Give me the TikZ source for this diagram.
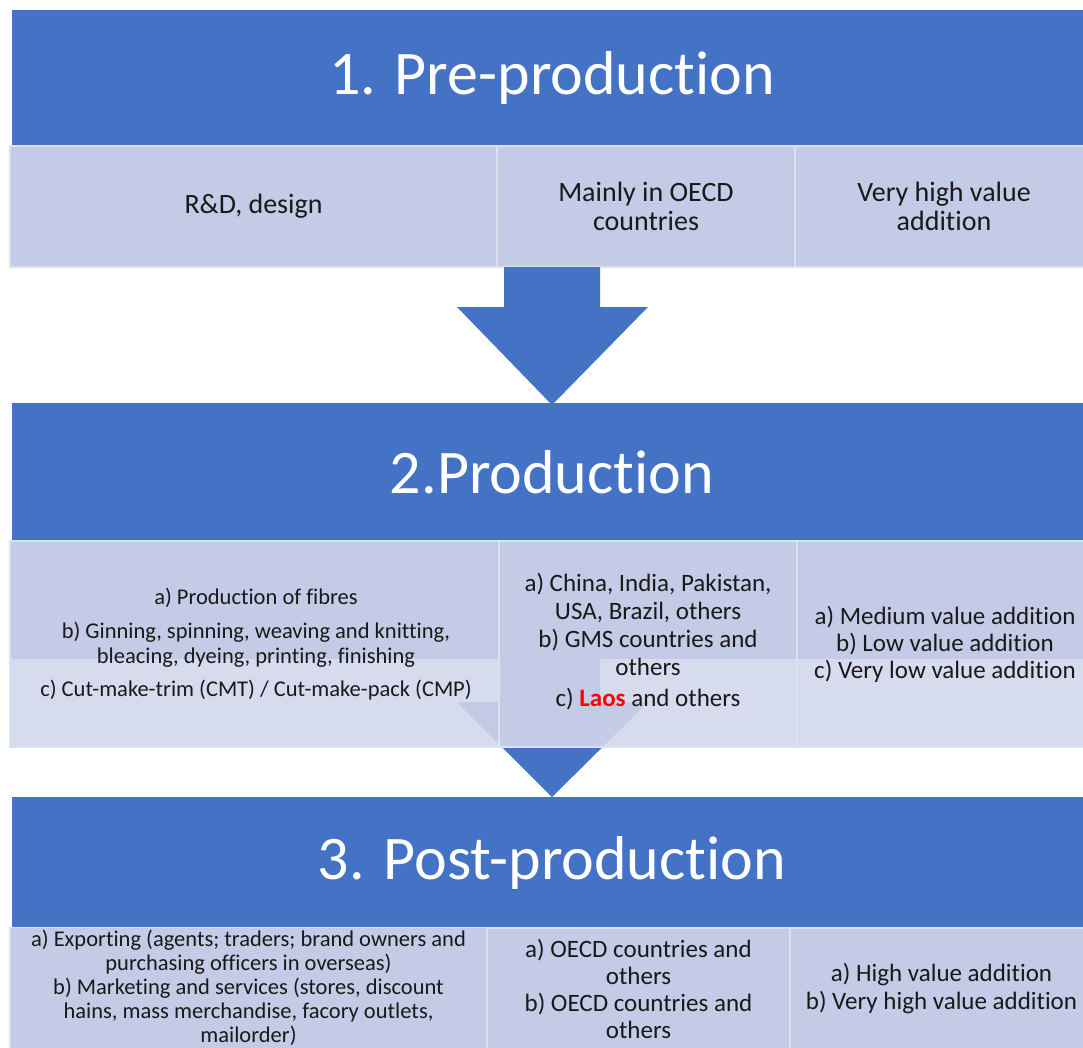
\documentclass[tikz,border=0pt]{standalone}
\usepackage{fontspec}
\setmainfont{Carlito}[Ligatures={NoCommon}]
\definecolor{hdblue}{HTML}{4472C4}
\definecolor{celldark}{HTML}{C3CBE6}
\definecolor{celllight}{HTML}{D6DBEE}
\definecolor{cellline}{HTML}{DCE1F1}
\begin{document}
\begin{tikzpicture}[x=1pt, y=-1pt,
    header/.style={fill=hdblue, text=white, inner sep=0pt, minimum width=1080pt, font=\fontsize{62}{70}\selectfont},
    cell/.style={fill=celldark, draw=cellline, line width=1.2pt, inner sep=0pt, align=center, text=black!90},
    txt/.style={align=center, inner sep=0pt, text=black!90}]
\useasboundingbox (0,0) rectangle (1083,1047);

% stage 1
\node[header, minimum height=136pt] (pre) at (552,78) {1. Pre-production};
\node[cell, minimum width=487pt, minimum height=121pt, font=\fontsize{28}{29}\selectfont] (rd) at (253.5,206.5) {R\&D, design};
\node[cell, minimum width=298pt, minimum height=121pt, font=\fontsize{28}{29}\selectfont] (oecd) at (646,206.5) {Mainly in OECD\\countries};
\node[cell, minimum width=298pt, minimum height=121pt, font=\fontsize{28}{29}\selectfont] (vhigh) at (944,206.5) {Very high value\\addition};
\fill[hdblue] (504,267) -- (600,267) -- (600,307) -- (648,307) -- (552,405) -- (457,307) -- (504,307) -- cycle;

% stage 2
\node[header, minimum height=138pt] (prod) at (552,472) {2.Production};
\fill[hdblue] (504,659) -- (600,659) -- (600,702) -- (648,702) -- (552,797) -- (457,702) -- (504,702) -- cycle;
\fill[celllight] (10,541) rectangle (1093,747);
\fill[celldark] (10,541) rectangle (1093,659);
\begin{scope}
  \clip (10,541) rectangle (1093,747);
  \fill[celldark] (500,541) -- (600,541) -- (600,702) -- (648,702) -- (552,797) -- (457,702) -- (500,702) -- cycle;
\end{scope}
\draw[cellline, line width=1.2pt] (10,541) rectangle (1093,747) (499,541) -- (499,747) (797,541) -- (797,747);
\node[txt, font=\fontsize{22.5}{25}\selectfont] (fibres) at (256,644)
  {a) Production of fibres\\[9pt]
   b) Ginning, spinning, weaving and knitting,\\
   bleacing, dyeing, printing, finishing\\[8pt]
   c) Cut-make-trim (CMT) / Cut-make-pack (CMP)};
\node[txt, font=\fontsize{25}{28}\selectfont] (gms) at (648,642)
  {a) China, India, Pakistan,\\
   USA, Brazil, others\\
   b) GMS countries and\\
   others\\[3pt]
   c) \textcolor{red}{\textbf{Laos}} and others};
\node[txt, font=\fontsize{25}{27}\selectfont] (lowval) at (945,644)
  {a) Medium value addition\\
   b) Low value addition\\
   c) Very low value addition};

% stage 3
\node[header, minimum height=131pt] (post) at (552,862.5) {3. Post-production};
\node[cell, minimum width=477pt, minimum height=121pt, font=\fontsize{22.5}{24}\selectfont] (export) at (248.5,988)
  {a) Exporting (agents; traders; brand owners and\\
   purchasing officers in overseas)\\
   b) Marketing and services (stores, discount\\
   hains, mass merchandise, facory outlets,\\
   mailorder)};
\node[cell, minimum width=303pt, minimum height=121pt, font=\fontsize{25}{27}\selectfont] (market) at (638.5,988.5)
  {a) OECD countries and\\
   others\\
   b) OECD countries and\\
   others};
\node[cell, minimum width=303pt, minimum height=121pt, font=\fontsize{25}{28}\selectfont] (highval) at (941.5,988.5)
  {a) High value addition\\
   b) Very high value addition};
\end{tikzpicture}
\end{document}
